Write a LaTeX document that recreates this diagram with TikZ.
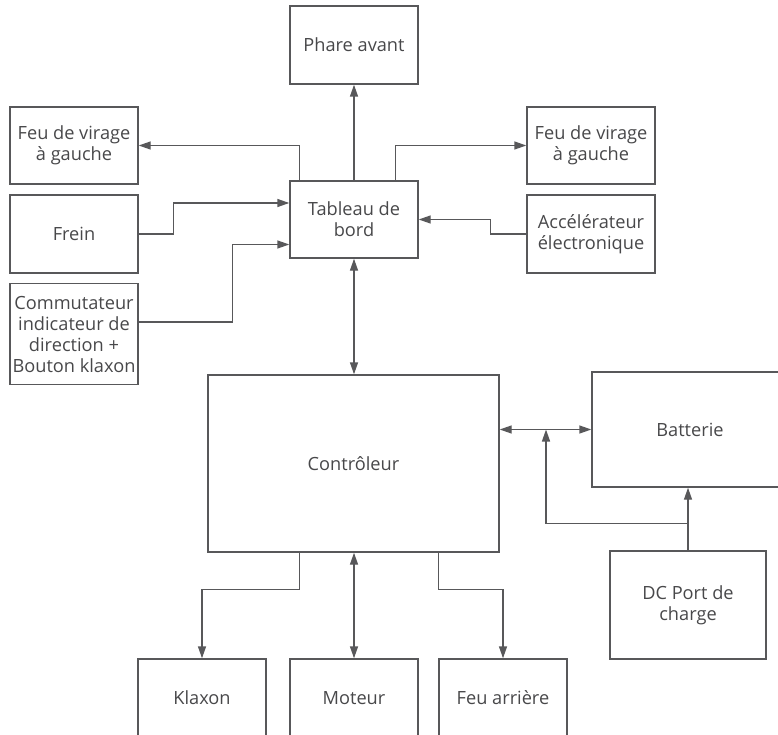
\documentclass[tikz,border=0pt]{standalone}
\usepackage{fontspec}
\setmainfont{Open Sans}
\usetikzlibrary{arrows.meta,calc}
\definecolor{linegray}{HTML}{58585A}
\definecolor{textgray}{HTML}{48484A}
\begin{document}
\begin{tikzpicture}[x=1pt,y=-1pt,
  box/.style={draw=linegray,line width=1.4pt,inner sep=0pt,align=center,
    text=textgray,font=\fontsize{18.2}{21}\selectfont},
  conn/.style={draw=linegray,line width=1.4pt},
  >={Triangle[length=12pt,width=8pt]}]
\useasboundingbox (0,0) rectangle (778,735);
\clip (0,0) rectangle (778,735);
\node[box,minimum width=128pt,minimum height=78pt] (phare) at (354,45) {Phare avant};
\node[box,minimum width=128pt,minimum height=77pt] (fgl) at (74,145.5) {Feu de virage\\à gauche};
\node[box,minimum width=128pt,minimum height=78pt] (frein) at (74,234) {Frein};
\node[box,minimum width=128pt,minimum height=101pt] (comm) at (74,334) {Commutateur\\indicateur de\\direction +\\Bouton klaxon};
\node[box,minimum width=128pt,minimum height=77pt] (tab) at (354,219.5) {Tableau de\\bord};
\node[box,minimum width=128pt,minimum height=77pt] (fgr) at (591,145.5) {Feu de virage\\à gauche};
\node[box,minimum width=128pt,minimum height=78pt] (acc) at (591,234) {Accélérateur\\électronique};
\node[box,minimum width=291pt,minimum height=177pt] (ctrl) at (353.5,463.5) {Contrôleur};
\node[box,minimum width=196pt,minimum height=115pt] (bat) at (690,429.5) {Batterie};
\node[box,minimum width=156pt,minimum height=108pt] (dc) at (688,605) {DC Port de\\charge};
\node[box,minimum width=128pt,minimum height=78pt] (klax) at (202,698) {Klaxon};
\node[box,minimum width=128pt,minimum height=78pt] (mot) at (354,698) {Moteur};
\node[box,minimum width=128pt,minimum height=78pt] (far) at (503,698) {Feu arrière};
\coordinate (j) at (546,429.5);
% connectors
\draw[conn,->] (tab) -- (phare);
\draw[conn,->] ($(tab.north west)+(10,0)$) |- (fgl.east);
\draw[conn,->] ($(tab.north east)+(-23,0)$) |- (fgr.west);
\draw[conn,->] (frein.east) -- ++(35,0) |- ($(tab.west)+(0,-16.5)$);
\draw[conn,->] ($(comm.east)+(0,-12)$) -- ++(94,0) |- ($(tab.west)+(0,25)$);
\draw[conn,->] (acc.west) -- ++(-36,0) |- (tab.east);
\draw[conn,<->] (tab.south) -- (tab.south |- ctrl.north);
\draw[conn,<->] (bat.west -| ctrl.east) -- (bat.west);
\draw[conn,->] (dc.north) -- (dc.north |- bat.south);
\draw[conn,->] ($(dc.north)+(0,-27)$) -| (j);
\draw[conn,->] ($(ctrl.south west)+(92,0)$) -- ++(0,37) -| (klax.north);
\draw[conn,<->] (mot.north |- ctrl.south) -- (mot.north);
\draw[conn,->] ($(ctrl.south west)+(231,0)$) -- ++(0,37) -| (far.north);
\end{tikzpicture}
\end{document}
